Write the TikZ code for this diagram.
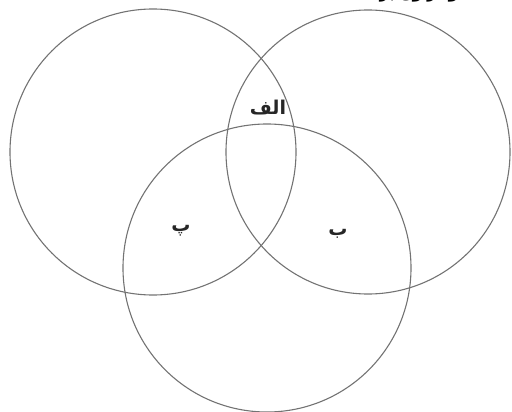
\documentclass[tikz,border=0pt]{standalone}
\usepackage{fontspec}
\newfontfamily\arabicfont[Script=Arabic,BoldFont={DejaVu Sans Bold}]{DejaVu Sans}
\TeXXeTstate=1
\begin{document}
\begin{tikzpicture}[x=1pt,y=-1pt,
  venn/.style={draw=black!55, line width=1.1pt},
  lbl/.style={font=\arabicfont\bfseries\fontsize{19}{22}\selectfont, text=black!85, inner sep=0pt},
  ttl/.style={font=\arabicfont\bfseries\fontsize{15}{18}\selectfont, text=black, inner sep=0pt}]
\useasboundingbox (0,0) rectangle (512,412);
\clip (0,0) rectangle (512,412);
\draw[venn] (153,152) circle[radius=143];
\draw[venn] (368,152) circle[radius=142];
\draw[venn] (267,268) circle[radius=144];
\node[lbl] (alef) at (268,108) {\beginR الف\endR};
\node[lbl] (pe) at (181,231) {\beginR پ\endR};
\node[lbl] (be) at (338,234) {\beginR ب\endR};
\node[ttl, anchor=base east] (title) at (474,-1) {\beginR نمودار ون برای\endR};
\end{tikzpicture}
\end{document}
